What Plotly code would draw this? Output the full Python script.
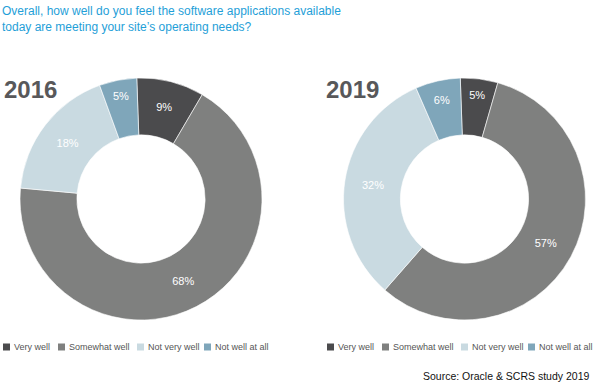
import plotly.graph_objects as go

categories = ["Very well", "Somewhat well", "Not very well", "Not well at all"]
values_2016 = [9, 68, 18, 5]
values_2019 = [5, 57, 32, 6]
years = ["2016", "2019"]
colors = ["#4b4b4d", "#7f807f", "#c9dae1", "#7fa6ba"]

W, H = 595, 386
fig = go.Figure()

centers = [(141, 199), (464.5, 199)]
R = 121
for vals, (cx, cy) in zip([values_2016, values_2019], centers):
    fig.add_trace(go.Pie(
        labels=categories, values=vals, sort=False, direction="clockwise",
        rotation=-2, hole=0.53,
        marker=dict(colors=colors, line=dict(color="#ffffff", width=0.6)),
        texttemplate="%{value}%", textposition="inside",
        insidetextorientation="horizontal",
        textfont=dict(family="Liberation Sans, Arial", size=11, color="white"),
        showlegend=False, hoverinfo="label+value",
        domain=dict(x=[(cx - R) / W, (cx + R) / W], y=[1 - (cy + R) / H, 1 - (cy - R) / H]),
    ))

ann = []
shapes = []
ann.append(dict(
    text="Overall, how well do you feel the software applications available<br>today are meeting your site’s operating needs?",
    x=0, y=1 - 2 / H, xref="paper", yref="paper", xanchor="left", yanchor="top",
    align="left", showarrow=False,
    font=dict(family="Liberation Sans, Arial", size=12, color="#1fa0d8"),
))
for yr, x0 in zip(years, [2, 324]):
    ann.append(dict(text="<b>%s</b>" % yr, x=x0 / W, y=1 - 90 / H, xref="paper", yref="paper",
                    xanchor="left", yanchor="middle", showarrow=False,
                    font=dict(family="Liberation Sans, Arial", size=24, color="#58585a")))

# legends
leg_x_starts = [[3, 58, 137, 204], [327, 382, 461, 528]]
for xs in leg_x_starts:
    for cat, col, x in zip(categories, colors, xs):
        yc = 347
        shapes.append(dict(type="rect", xref="paper", yref="paper",
                           x0=x / W, x1=(x + 7) / W, y0=1 - (yc + 3.5) / H, y1=1 - (yc - 3.5) / H,
                           fillcolor=col, line=dict(width=0)))
        ann.append(dict(text=cat, x=(x + 9) / W, y=1 - yc / H, xref="paper", yref="paper",
                        xanchor="left", yanchor="middle", showarrow=False,
                        font=dict(family="Liberation Sans, Arial", size=9, color="#555555")))

ann.append(dict(text="Source: Oracle & SCRS study 2019", x=591 / W, y=1 - 376 / H, xref="paper", yref="paper",
                xanchor="right", yanchor="middle", showarrow=False,
                font=dict(family="Liberation Sans, Arial", size=10.5, color="#111111")))

fig.update_layout(width=W, height=H, margin=dict(l=0, r=0, t=0, b=0),
                  paper_bgcolor="white", plot_bgcolor="white",
                  annotations=ann, shapes=shapes)
fig.write_html("out.html", config={"displayModeBar": False},
               post_script="document.body.style.margin='0';document.body.style.overflow='hidden';")
